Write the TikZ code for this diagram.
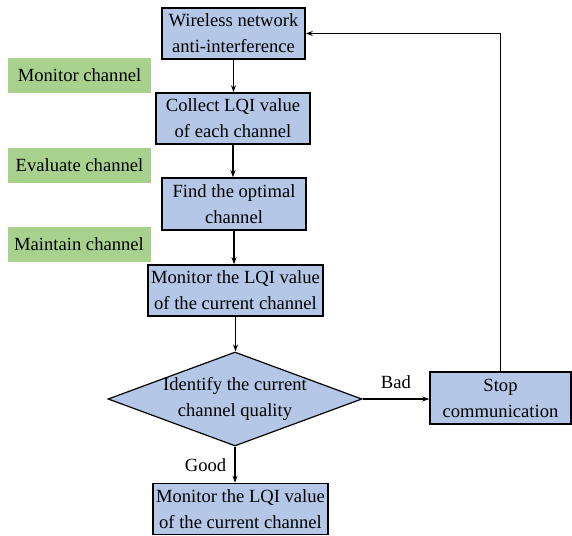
\documentclass[tikz,border=0pt]{standalone}
\usepackage{fontspec}
\setmainfont{Liberation Serif}
\usepackage{tikz}
\usetikzlibrary{shapes.geometric,arrows.meta}

\definecolor{boxblue}{HTML}{B4C7E7}
\definecolor{stagegreen}{HTML}{A9D18E}

\begin{document}
\begin{tikzpicture}[x=1pt,y=-1pt,>={Stealth[length=7pt,width=5pt]}]
		\tikzstyle{every path}=[line width=1.2pt]
		\tikzstyle{procbox}=[draw,line width=1.6pt,fill=boxblue,
								  inner sep=0pt,
								  minimum height=51pt,
								  align=center]
		\tikzstyle{decbox}=[diamond,draw,line width=1.2pt,fill=boxblue,
								  inner sep=-6pt,aspect=2.7,
								  minimum width=254pt,
								  minimum height=94pt,
								  align=center]
		\tikzstyle{stagebox}=[fill=stagegreen,inner sep=0pt,
								  minimum height=35pt,
								  minimum width=143pt]

\fontsize{18.6}{26}\selectfont

\useasboundingbox (0,0) rectangle (572,535);

% stages
\node [stagebox] at (79.5,75.5) (monitor) {Monitor channel};
\node [stagebox] at (79.5,165) (evaluate) {Evaluate channel};
\node [stagebox] at (79,244.5) (maintain) {Maintain channel};

% main flow
\node [procbox,minimum width=143pt] at (233.5,33.5) (wireless) {Wireless network\\anti-interference};
\node [procbox,minimum width=154pt] at (233,118.5) (collect) {Collect LQI value\\of each channel};
\node [procbox,minimum width=144pt,minimum height=52pt] at (234,204) (optimal) {Find the optimal\\channel};
\node [procbox,minimum width=175pt] at (235.5,290.5) (watch) {Monitor the LQI value\\of the current channel};
\node [decbox] at (235,399) (quality) {Identify the current\\channel quality};
\node [procbox,minimum width=141pt,minimum height=52pt] at (500.5,398) (stop) {Stop\\communication};
\node [procbox,minimum width=175pt] at (240.5,509) (keep) {Monitor the LQI value\\of the current channel};

	\draw[->] (wireless.south) -- (wireless.south |- collect.north);
	\draw[->] (collect.south) -- (collect.south |- optimal.north);
	\draw[->] (optimal.south) -- (optimal.south |- watch.north);
	\draw[->] (watch.south) -- (watch.south |- quality.north);
	\draw[->] (quality.east) -- node[above,yshift=4pt] {Bad} (quality.east -| stop.west);
	\draw[->] (quality.south) -- node[left,xshift=-2pt] {Good} (quality.south |- keep.north);
	\draw[->] (stop.north) |- (wireless.east);

\end{tikzpicture}
\end{document}
